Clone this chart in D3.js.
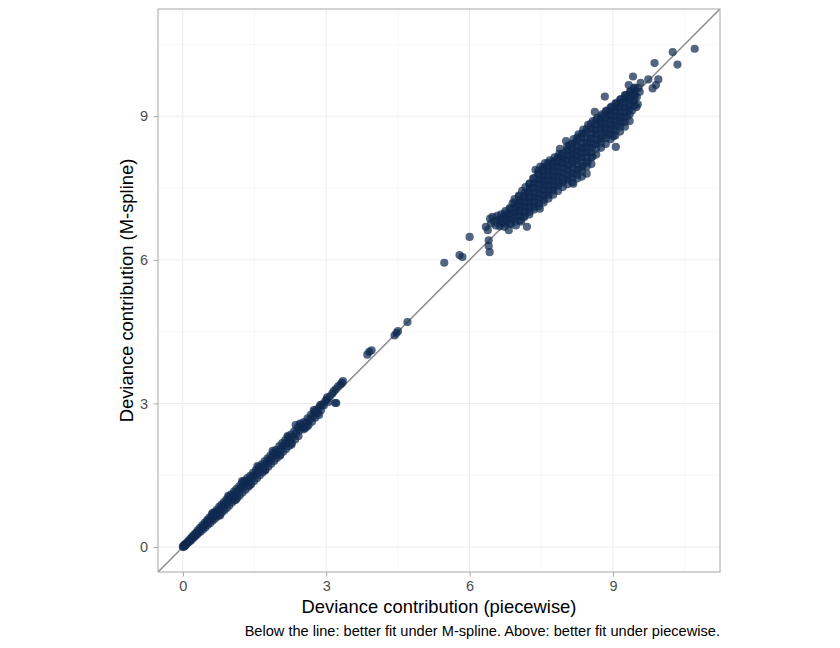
<!DOCTYPE html>
<html>
<head>
<meta charset="utf-8">
<script src="https://cdn.jsdelivr.net/npm/d3@7"></script>
<style>
  html, body { margin: 0; padding: 0; background: #ffffff; }
  svg { display: block; font-family: "Liberation Sans", Arial, Helvetica, sans-serif; }
</style>
</head>
<body>
<svg id="chart" width="840" height="648"></svg>
<script>
// ---- Data: [piecewise, M-spline] deviance contributions ----
const lowBand = [
  [0.00,0.01],[0.01,0.00],[0.02,0.03],[0.03,0.02],[0.04,0.05],[0.05,0.03],[0.06,0.07],[0.07,0.06],
  [0.09,0.08],[0.10,0.11],[0.11,0.09],[0.13,0.14],[0.14,0.12],[0.16,0.17],[0.17,0.14],[0.19,0.21],
  [0.20,0.18],[0.22,0.24],[0.23,0.20],[0.25,0.27],[0.26,0.23],[0.28,0.30],[0.29,0.26],
  [0.31,0.35],[0.32,0.29],[0.34,0.33],[0.36,0.40],[0.37,0.32],[0.39,0.40],[0.41,0.46],[0.42,0.37],
  [0.44,0.44],[0.46,0.51],[0.47,0.41],[0.49,0.50],[0.51,0.57],[0.52,0.46],[0.54,0.55],[0.56,0.62],
  [0.57,0.50],[0.59,0.60],[0.61,0.68],[0.62,0.55],[0.64,0.64],[0.66,0.73],[0.67,0.59],[0.69,0.70],
  [0.71,0.78],[0.72,0.64],[0.74,0.74],[0.76,0.84],[0.77,0.68],[0.79,0.80],[0.81,0.89],[0.82,0.73],
  [0.84,0.85],[0.86,0.94],[0.87,0.77],[0.89,0.90],[0.91,0.99],[0.92,0.82],[0.94,0.95],[0.96,1.04],
  [0.97,0.87],[0.99,1.00],
  [1.01,1.10],[1.03,0.93],[1.05,1.06],[1.07,1.16],[1.08,0.98],[1.10,1.11],[1.12,1.21],[1.14,1.03],
  [1.16,1.17],[1.18,1.27],[1.19,1.08],[1.21,1.22],[1.23,1.32],[1.25,1.14],[1.27,1.36],[1.28,1.28],
  [1.30,1.39],[1.31,1.20],[1.33,1.34],[1.35,1.44],[1.37,1.26],[1.39,1.39],[1.41,1.49],[1.43,1.32],
  [1.45,1.46],[1.47,1.55],[1.49,1.38],[1.51,1.51],[1.53,1.61],[1.55,1.44],[1.57,1.57],[1.59,1.67],
  [1.61,1.50],[1.63,1.63],[1.65,1.73],[1.67,1.56],[1.69,1.69],[1.71,1.79],[1.73,1.62],[1.75,1.75],
  [1.77,1.85],[1.79,1.68],[1.81,1.81],[1.83,1.91],[1.85,1.74],[1.87,1.87],[1.89,1.97],[1.91,1.80],
  [1.93,1.93],[1.95,2.03],[1.97,1.86],[1.99,1.99],
  [2.02,2.11],[2.04,1.93],[2.06,2.06],[2.08,2.17],[2.10,1.99],[2.12,2.12],[2.14,2.23],[2.16,2.05],
  [2.18,2.18],[2.20,2.29],[2.22,2.11],[2.24,2.24],[2.26,2.35],[2.28,2.17],[2.30,2.30],[2.33,2.42],
  [2.36,2.55],[2.35,2.25],[2.37,2.38],[2.40,2.49],[2.42,2.32],[2.44,2.44],[2.47,2.56],[2.53,2.46],
  [2.50,2.50],[2.53,2.61],[2.56,2.49],[2.58,2.59],[2.61,2.69],[2.63,2.55],[2.65,2.66],[2.68,2.76],
  [2.70,2.62],[2.72,2.73],[2.75,2.83],[2.78,2.80],[2.77,2.70],[2.80,2.87],[2.83,2.80],[2.86,2.93],
  [2.88,2.97],[2.89,2.86],[2.92,2.98],[2.95,2.96],[2.98,3.05],[3.01,3.08],
  [3.02,3.13],[3.05,3.03],[3.08,3.15],[3.13,3.21],[3.16,3.26],[3.19,3.01],[3.21,3.01],[3.20,3.30],
  [3.25,3.36],[3.30,3.40],[3.33,3.43],[3.35,3.47],
  [0.62,0.71],[0.78,0.66],[0.95,1.07],[1.11,0.99],[1.24,1.38],[1.40,1.29],[1.56,1.69],[1.72,1.60],
  [1.88,2.01],[2.03,1.91],[2.19,2.32],[2.27,2.14],[2.45,2.58],[2.60,2.52],[2.74,2.86],[2.85,2.76]
];
const midPoints = [
  [3.86,4.02],[3.90,4.08],[3.95,4.11],[4.43,4.42],[4.47,4.47],[4.50,4.51],[4.70,4.70],
  [5.47,5.94],[5.79,6.10],[5.85,6.06],[6.00,6.48],[6.40,6.41],[6.40,6.29],[6.42,6.16],
  [6.34,6.69],[6.38,6.62]
];
const highCluster = [
  [6.43,6.86],[6.45,6.76],[6.48,6.90],[6.52,6.80],[6.55,6.72],[6.58,6.92],[6.60,6.83],[6.63,6.70],
  [6.66,6.95],[6.68,6.78],[6.71,6.88],[6.73,6.69],[6.75,7.02],
  [6.78,6.83],[6.80,6.93],[6.82,6.62],[6.84,7.08],[6.86,6.75],
  [6.88,6.98],[6.90,7.18],[6.92,6.86],[6.94,7.27],[6.96,7.06],[6.97,6.72],
  [7.00,7.16],[7.02,6.92],[7.03,7.34],[7.05,7.02],[7.07,7.25],[7.08,6.80],
  [7.10,7.44],[7.12,7.12],[7.13,6.90],[7.15,7.33],[7.17,7.52],[7.18,7.02],[7.20,6.69],
  [7.22,7.22],[7.23,7.42],[7.25,6.95],[7.26,7.60],[7.28,7.10],
  [7.30,7.32],[7.32,7.52],[7.33,7.70],[7.35,7.05],[7.37,7.20],[7.38,7.88],
  [7.40,7.42],[7.42,7.62],[7.43,7.80],[7.45,7.12],[7.47,7.28],[7.48,7.95],[7.47,7.07],
  [7.50,7.50],[7.52,7.70],[7.53,7.88],[7.55,7.20],[7.57,7.36],[7.58,8.02],
  [7.60,7.58],[7.62,7.78],[7.63,7.95],[7.65,7.28],[7.67,7.45],[7.68,8.08],
  [7.70,7.66],[7.72,7.86],[7.73,8.02],[7.75,7.36],[7.77,7.52],[7.78,8.14],
  [7.80,7.74],[7.82,7.94],[7.83,8.10],[7.85,7.44],[7.87,7.60],[7.88,8.22],
  [7.89,8.32],[7.90,7.82],[7.92,8.02],[7.93,8.18],[7.95,7.52],[7.97,7.68],
  [8.00,7.90],[8.02,8.10],[8.03,8.28],[8.05,7.58],[8.02,8.48],[8.07,7.74],[8.08,8.40],
  [8.10,7.98],[8.12,8.18],[8.13,8.36],[8.15,7.62],[8.17,7.80],[8.17,7.59],[8.18,8.52],
  [8.20,8.06],[8.22,8.26],[8.23,8.46],[8.25,7.70],[8.27,7.88],[8.28,8.62],
  [8.30,8.14],[8.32,8.34],[8.33,8.56],[8.35,7.74],[8.37,7.96],[8.38,8.72],
  [8.40,8.22],[8.42,8.44],[8.43,8.66],[8.45,7.80],[8.47,8.04],[8.48,8.82],
  [8.50,8.32],[8.52,8.54],[8.53,8.74],[8.55,8.00],[8.57,8.16],[8.58,8.90],
  [8.60,8.42],[8.62,8.64],[8.63,8.82],[8.65,8.20],[8.62,9.09],[8.67,8.96],
  [8.70,8.50],[8.72,8.72],[8.73,8.90],[8.75,8.34],[8.77,9.04],
  [8.80,8.58],[8.82,8.78],[8.83,8.96],[8.85,8.42],[8.83,9.41],[8.87,9.12],
  [8.90,8.66],[8.92,8.86],[8.93,9.04],[8.95,8.52],[8.97,9.20],
  [9.00,8.74],[9.02,8.94],[9.03,9.12],[9.01,8.58],[9.06,8.36],[9.05,8.60],[9.07,9.28],
  [9.10,8.82],[9.12,9.02],[9.13,9.20],[9.15,8.68],[9.17,9.36],
  [9.20,8.90],[9.22,9.10],[9.23,9.28],[9.25,8.78],[9.27,9.44],
  [9.30,9.00],[9.32,9.18],[9.33,9.65],[9.33,9.36],[9.35,8.90],[9.37,9.52],
  [9.40,9.12],[9.42,9.30],[9.42,9.83],[9.44,9.46],[9.46,9.60],[9.49,9.19],
  [9.50,9.40],[9.53,9.59],[9.56,9.51],[9.52,9.25],[9.58,9.70],
  [9.74,9.77],[9.83,9.58],[9.90,9.65],[9.95,9.77],[9.87,10.11],[10.25,10.34],[10.35,10.08],[10.71,10.41]
];
const highCore = [
  [6.65,6.76],[6.64,6.86],[6.75,6.76],[6.76,6.86],[6.74,6.96],
  [6.85,6.76],[6.86,6.86],[6.84,6.96],[6.85,7.06],
  [6.95,6.80],[6.94,6.90],[6.96,7.00],[6.95,7.10],[6.94,7.20],
  [7.05,6.82],[7.06,6.92],[7.04,7.02],[7.05,7.12],[7.06,7.22],[7.04,7.32],
  [7.15,6.90],[7.14,7.00],[7.16,7.10],[7.15,7.20],[7.14,7.30],[7.16,7.40],
  [7.25,7.00],[7.24,7.10],[7.26,7.20],[7.25,7.30],[7.24,7.40],[7.26,7.50],[7.25,7.58],
  [7.35,7.10],[7.34,7.20],[7.36,7.30],[7.35,7.40],[7.34,7.50],[7.36,7.60],[7.35,7.70],
  [7.45,7.18],[7.44,7.28],[7.46,7.38],[7.45,7.48],[7.44,7.58],[7.46,7.68],[7.45,7.78],[7.44,7.86],
  [7.55,7.25],[7.54,7.35],[7.56,7.45],[7.55,7.55],[7.54,7.65],[7.56,7.75],[7.55,7.85],[7.54,7.94],
  [7.65,7.35],[7.64,7.45],[7.66,7.55],[7.65,7.65],[7.64,7.75],[7.66,7.85],[7.65,7.95],[7.64,8.02],
  [7.75,7.45],[7.74,7.55],[7.76,7.65],[7.75,7.75],[7.74,7.85],[7.76,7.95],[7.75,8.05],
  [7.85,7.55],[7.84,7.65],[7.86,7.75],[7.85,7.85],[7.84,7.95],[7.86,8.05],[7.85,8.15],
  [7.95,7.62],[7.94,7.72],[7.96,7.82],[7.95,7.92],[7.94,8.02],[7.96,8.12],[7.95,8.22],
  [8.05,7.68],[8.04,7.78],[8.06,7.88],[8.05,7.98],[8.04,8.08],[8.06,8.18],[8.05,8.28],[8.04,8.36],
  [8.15,7.72],[8.14,7.82],[8.16,7.92],[8.15,8.02],[8.14,8.12],[8.16,8.22],[8.15,8.32],[8.14,8.42],
  [8.25,7.78],[8.24,7.88],[8.26,7.98],[8.25,8.08],[8.24,8.18],[8.26,8.28],[8.25,8.38],[8.24,8.48],[8.26,8.56],
  [8.35,7.84],[8.34,7.94],[8.36,8.04],[8.35,8.14],[8.34,8.24],[8.36,8.34],[8.35,8.44],[8.34,8.54],[8.36,8.64],
  [8.45,7.95],[8.44,8.05],[8.46,8.15],[8.45,8.25],[8.44,8.35],[8.46,8.45],[8.45,8.55],[8.44,8.65],[8.46,8.74],
  [8.55,8.14],[8.54,8.24],[8.56,8.34],[8.55,8.44],[8.54,8.54],[8.56,8.64],[8.55,8.74],[8.54,8.84],
  [8.65,8.32],[8.64,8.42],[8.66,8.52],[8.65,8.62],[8.64,8.72],[8.66,8.82],[8.65,8.92],
  [8.75,8.44],[8.74,8.54],[8.76,8.64],[8.75,8.74],[8.74,8.84],[8.76,8.94],[8.75,9.00],
  [8.85,8.54],[8.84,8.64],[8.86,8.74],[8.85,8.84],[8.84,8.94],[8.86,9.04],[8.85,9.10],
  [8.95,8.62],[8.94,8.72],[8.96,8.82],[8.95,8.92],[8.94,9.02],[8.96,9.12],[8.95,9.18],
  [9.05,8.70],[9.04,8.80],[9.06,8.90],[9.05,9.00],[9.04,9.10],[9.06,9.20],[9.05,9.26],
  [9.15,8.78],[9.14,8.88],[9.16,8.98],[9.15,9.08],[9.14,9.18],[9.16,9.28],[9.15,9.35],
  [9.25,8.88],[9.24,8.98],[9.26,9.08],[9.25,9.18],[9.24,9.28],[9.26,9.38],[9.25,9.44],
  [9.35,9.04],[9.34,9.14],[9.36,9.24],[9.35,9.34],[9.34,9.44],[9.36,9.52],
  [9.45,9.22],[9.44,9.32],[9.46,9.42],[9.45,9.52],[9.44,9.58]
];
const tickValues = [0, 3, 6, 9];
const minorValues = [1.5, 4.5, 7.5, 10.5];
const xTitle = "Deviance contribution (piecewise)";
const yTitle = "Deviance contribution (M-spline)";
const caption = "Below the line: better fit under M-spline. Above: better fit under piecewise.";

// ---- Layout ----
const panel = { left: 158, right: 720, top: 9, bottom: 572 };
const domain = [-0.52, 11.24];
const svg = d3.select("#chart");
const x = d3.scaleLinear().domain(domain).range([panel.left, panel.right]);
const y = d3.scaleLinear().domain(domain).range([panel.bottom, panel.top]);

svg.append("defs").append("clipPath").attr("id", "clip")
  .append("rect").attr("x", panel.left).attr("y", panel.top)
  .attr("width", panel.right - panel.left).attr("height", panel.bottom - panel.top);

const grid = svg.append("g");
grid.selectAll(".vmin").data(minorValues).join("line")
  .attr("x1", d => x(d)).attr("x2", d => x(d)).attr("y1", panel.top).attr("y2", panel.bottom)
  .attr("stroke", "#f3f3f3").attr("stroke-width", 0.6);
grid.selectAll(".hmin").data(minorValues).join("line")
  .attr("y1", d => y(d)).attr("y2", d => y(d)).attr("x1", panel.left).attr("x2", panel.right)
  .attr("stroke", "#f3f3f3").attr("stroke-width", 0.6);
grid.selectAll(".vmaj").data(tickValues).join("line")
  .attr("x1", d => x(d)).attr("x2", d => x(d)).attr("y1", panel.top).attr("y2", panel.bottom)
  .attr("stroke", "#ececec").attr("stroke-width", 1);
grid.selectAll(".hmaj").data(tickValues).join("line")
  .attr("y1", d => y(d)).attr("y2", d => y(d)).attr("x1", panel.left).attr("x2", panel.right)
  .attr("stroke", "#ececec").attr("stroke-width", 1);

// diagonal y = x
svg.append("line").attr("clip-path", "url(#clip)")
  .attr("x1", x(domain[0])).attr("y1", y(domain[0]))
  .attr("x2", x(domain[1])).attr("y2", y(domain[1]))
  .attr("stroke", "#8c8c8c").attr("stroke-width", 1.5);

// points
const allPoints = lowBand.concat(midPoints, highCore, highCluster);
svg.append("g").attr("clip-path", "url(#clip)")
  .selectAll("circle").data(allPoints).join("circle")
  .attr("cx", d => x(d[0])).attr("cy", d => y(d[1])).attr("r", 4.1)
  .attr("fill", "#0f2a50").attr("fill-opacity", 0.72);

// panel border
svg.append("rect").attr("x", panel.left).attr("y", panel.top)
  .attr("width", panel.right - panel.left).attr("height", panel.bottom - panel.top)
  .attr("fill", "none").attr("stroke", "#a6a6a6").attr("stroke-width", 1);

// axes
const xAxis = svg.append("g").attr("transform", `translate(0,${panel.bottom})`)
  .call(d3.axisBottom(x).tickValues(tickValues).tickSize(4.5).tickPadding(4.5).tickFormat(d3.format("d")));
const yAxis = svg.append("g").attr("transform", `translate(${panel.left},0)`)
  .call(d3.axisLeft(y).tickValues(tickValues).tickSize(4.5).tickPadding(5.5).tickFormat(d3.format("d")));
[xAxis, yAxis].forEach(a => {
  a.select(".domain").remove();
  a.selectAll(".tick line").attr("stroke", "#a6a6a6");
  a.selectAll(".tick text").attr("fill", "#4d4d4d").attr("font-size", 14.5)
    .attr("font-family", "Liberation Sans, Arial, sans-serif");
});

// titles
svg.append("text").attr("x", (panel.left + panel.right) / 2).attr("y", 613)
  .attr("text-anchor", "middle").attr("font-size", 18.4).attr("fill", "#000").text(xTitle);
svg.append("text").attr("transform", `translate(133,${(panel.top + panel.bottom) / 2}) rotate(-90)`)
  .attr("text-anchor", "middle").attr("font-size", 18.4).attr("fill", "#000").text(yTitle);
svg.append("text").attr("x", panel.right).attr("y", 636)
  .attr("text-anchor", "end").attr("font-size", 14.6).attr("fill", "#000").text(caption);
</script>
</body>
</html>
